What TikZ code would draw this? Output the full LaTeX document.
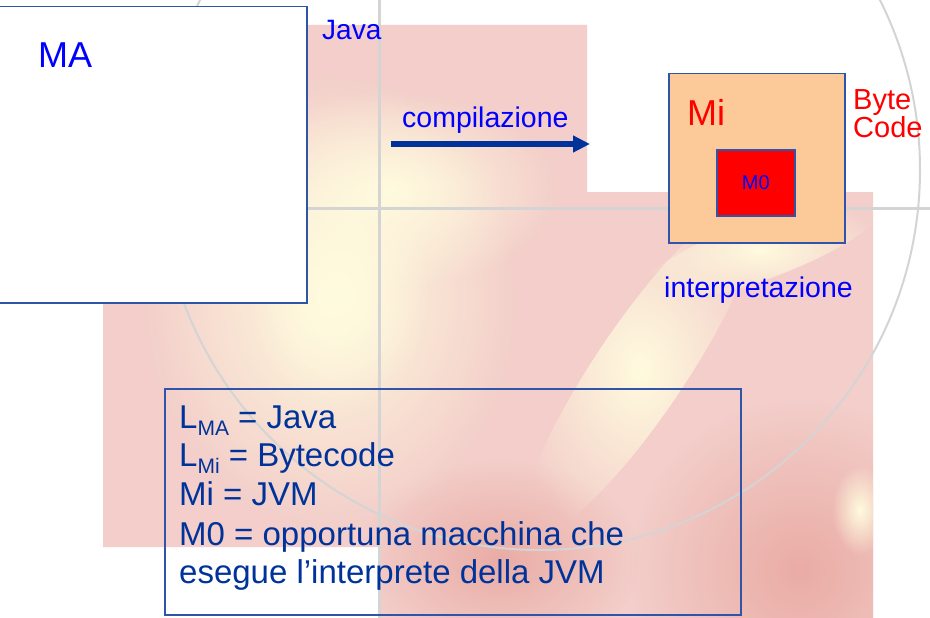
\documentclass[tikz,border=0pt]{standalone}
\usepackage{fontspec}
\setmainfont{Liberation Sans}
\usetikzlibrary{arrows.meta,fadings}
\definecolor{txtblue}{RGB}{0,0,255}
\definecolor{dkblue}{RGB}{0,51,153}
\definecolor{edgeblue}{RGB}{47,84,170}
\definecolor{peach}{RGB}{252,202,152}
\definecolor{bgpink}{RGB}{243,206,202}
\definecolor{bgred}{RGB}{234,172,165}
\definecolor{glow}{RGB}{255,251,222}
\definecolor{ring}{RGB}{212,212,212}
\tikzfading[name=softglow, inner color=transparent!0, outer color=transparent!100]
\tikzset{
  boxstyle/.style={draw=edgeblue, line width=1.5pt, inner sep=0pt, anchor=north west},
  lbl/.style={inner sep=0pt, anchor=base west},
  legend/.style={lbl, text=dkblue, font=\fontsize{33}{33}\selectfont},
  glowspot/.style={fill=glow, path fading=softglow},
  redspot/.style={fill=bgred, path fading=softglow},
}
\begin{document}
\begin{tikzpicture}[x=1pt,y=-1pt]
\useasboundingbox (0,0) rectangle (930,618);
\fill[white] (0,0) rectangle (930,618);
% ---------- decorative background ----------
\begin{scope}
  \clip (307,25) rectangle (587,212) (103,200) rectangle (380,547) (378,192) rectangle (873,618);
  \fill[bgpink] (0,0) rectangle (930,618);
  \fill[redspot] (800,570) ellipse [x radius=170, y radius=170];
  \fill[redspot] (500,560) ellipse [x radius=140, y radius=100];
  \fill[glowspot] (330,300) ellipse [x radius=190, y radius=230];
  \fill[glowspot] (340,290) ellipse [x radius=90, y radius=120];
  \fill[glowspot] (390,190) ellipse [x radius=170, y radius=100];
  \fill[glowspot, rotate around={56:(640,370)}] (640,370) ellipse [x radius=200, y radius=45];
  \fill[glowspot, rotate around={20:(760,250)}] (760,250) ellipse [x radius=130, y radius=30];
  \fill[glowspot] (860,510) ellipse [x radius=28, y radius=45];
\end{scope}
\draw[ring, line width=3pt] (0,208) -- (930,208);
\draw[ring, line width=3pt] (379,0) -- (379,618);
\draw[ring, line width=2pt] (540,170) circle [radius=380];
% ---------- diagram ----------
\node[boxstyle, fill=white, minimum width=316pt, minimum height=296pt] (ma) at (-10,6) {};
\node[lbl, text=txtblue, font=\fontsize{36}{36}\selectfont] (tma) at (38,68) {MA};
\node[lbl, text=txtblue, font=\fontsize{28}{28}\selectfont] (java) at (322,40) {Java};
\node[lbl, text=txtblue, font=\fontsize{28.5}{28.5}\selectfont] (comp) at (402,128) {compilazione};
\coordinate (a1) at (391,144);
\coordinate (a2) at (590,144);
\draw[dkblue, line width=6pt, -{Triangle[length=17pt,width=16pt]}] (a1) -- (a2);
\node[boxstyle, fill=peach, minimum width=176pt, minimum height=169pt] (mi) at (668,73) {};
\node[lbl, text=red, font=\fontsize{36}{36}\selectfont] (tmi) at (687,125) {Mi};
\node[boxstyle, fill=red, minimum width=78pt, minimum height=66pt] (m0) at (716,149) {};
\node[text=txtblue, inner sep=0pt, font=\fontsize{20}{20}\selectfont] (tm0) at (m0.center) {M0};
\node[lbl, text=red, font=\fontsize{29}{29}\selectfont] (byte) at (853,110) {Byte};
\node[lbl, text=red, font=\fontsize{29}{29}\selectfont] (code) at (853,137) {Code};
\node[lbl, text=txtblue, font=\fontsize{28.5}{28.5}\selectfont] (interp) at (664,297) {interpretazione};
\node[boxstyle, minimum width=576pt, minimum height=226pt] (legendbox) at (164,388) {};
\node[legend] (l1) at (179,428) {L\raisebox{-7pt}{\fontsize{21}{21}\selectfont MA} = Java};
\node[legend] (l2) at (179,466) {L\raisebox{-7pt}{\fontsize{21}{21}\selectfont Mi} = Bytecode};
\node[legend] (l3) at (179,505) {Mi = JVM};
\node[legend] (l4) at (179,545) {M0 = opportuna macchina che};
\node[legend] (l5) at (179,583) {esegue l’interprete della JVM};
\end{tikzpicture}
\end{document}
